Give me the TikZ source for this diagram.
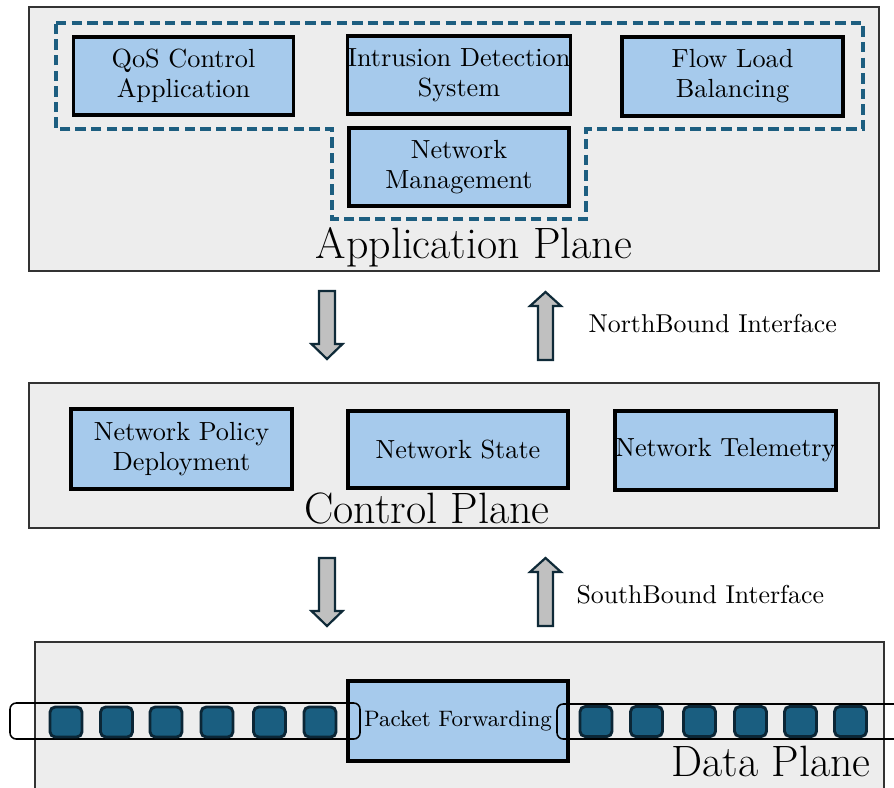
\documentclass[tikz,border=0pt]{standalone}
\definecolor{planefill}{HTML}{EDEDED}
\definecolor{planeedge}{HTML}{333333}
\definecolor{boxfill}{HTML}{A6CAEC}
\definecolor{dashcol}{HTML}{1D5E80}
\definecolor{sqfill}{HTML}{1A5E80}
\definecolor{sqedge}{HTML}{0B2636}
\definecolor{arrfill}{HTML}{C0C0C0}
\definecolor{arredge}{HTML}{0F2A38}
\begin{document}
\begin{tikzpicture}[x=0.385pt,y=-0.385pt,
  wh/.style 2 args={minimum width=#1*0.385pt, minimum height=#2*0.385pt},
  plane/.style={draw=planeedge, fill=planefill, line width=0.65pt, inner sep=0pt},
  func/.style={draw=black, fill=boxfill, line width=1.3pt, inner sep=0pt, align=center, font=\fontsize{10.1}{11.6}\selectfont},
  title/.style={inner sep=0pt, font=\fontsize{16.9}{20}\selectfont},
  side/.style={inner sep=0pt, font=\fontsize{9.95}{12}\selectfont},
  dashgroup/.style={draw=dashcol, line width=1.25pt, dash pattern=on 4pt off 2pt},
  blockarr/.style={draw=arredge, fill=arrfill, line width=0.85pt, line join=miter},
  pipe/.style={draw=black, line width=0.6pt, rounded corners=2.4pt, inner sep=0pt},
  pkt/.style={draw=sqedge, fill=sqfill, line width=1.1pt, rounded corners=2pt, inner sep=0pt, wh={32}{30}},
  downarr/.pic={\draw[blockarr] (-8,0) -- (8,0) -- (8,53) -- (15.5,53) -- (0,68) -- (-15.5,53) -- (-8,53) -- cycle;},
  uparr/.pic={\draw[blockarr] (0,0) -- (15.5,14) -- (7.5,14) -- (7.5,68) -- (-7.5,68) -- (-7.5,14) -- (-15.5,14) -- cycle;}
]
\useasboundingbox (0,0) rectangle (894,787);
\clip (0,0) rectangle (894,787);

% planes
\node[plane, wh={850}{264}] (app) at (454,139) {};
\node[plane, wh={850}{145}] (ctrl) at (454,455.5) {};
\node[plane, wh={849}{162}] (data) at (459.5,723) {};

% application group outline
\draw[dashgroup] (56,23) -- (863,23) -- (863,129) -- (586,129) -- (586,219) -- (332,219) -- (332,129) -- (56,129) -- cycle;

% application plane functions
\node[func, wh={220}{78}] (qos) at (183.5,76) {QoS Control\\Application};
\node[func, wh={220}{78}] (ids) at (459,75) {Intrusion Detection\\System};
\node[func, wh={221}{79}] (flb) at (732.5,76.5) {Flow Load\\Balancing};
\node[func, wh={220}{78}] (nm) at (459,167) {Network\\Management};
\node[title, anchor=base] (apptitle) at (474,258) {Application Plane};

% control plane functions
\node[func, wh={221}{80}] (npd) at (181.5,449) {Network Policy\\Deployment};
\node[func, wh={220}{77}] (ns) at (458,449.5) {Network State};
\node[func, wh={221}{79}] (nt) at (725.5,450.5) {Network Telemetry};
\node[title, anchor=base] (ctrltitle) at (427,523) {Control Plane};

% interfaces
\pic (nbdown) at (327,291) {downarr};
\pic (nbup) at (545.5,292) {uparr};
\node[side, anchor=base west] (nbi) at (588,332) {NorthBound Interface};
\pic (sbdown) at (327,558) {downarr};
\pic (sbup) at (545.5,558) {uparr};
\node[side, anchor=base west] (sbi) at (576,603) {SouthBound Interface};

% data plane
\node[func, wh={220}{80}, font=\fontsize{8.6}{10}\selectfont] (pf) at (458,721) {Packet Forwarding};
\node[pipe, wh={350}{36}] (pipeL) at (185,721) {};
\node[pipe, wh={380}{35}] (pipeR) at (747,721.5) {};
\foreach \i/\x in {1/66,2/116.5,3/166,4/217,5/269.5,6/320}
  \node[pkt] (l\i) at (\x,722) {};
\foreach \i/\x in {1/596,2/646.5,3/699.5,4/750.5,5/800.5,6/850.5}
  \node[pkt] (r\i) at (\x,721.5) {};
\node[title, anchor=base] (datatitle) at (771,776) {Data Plane};
\end{tikzpicture}
\end{document}
